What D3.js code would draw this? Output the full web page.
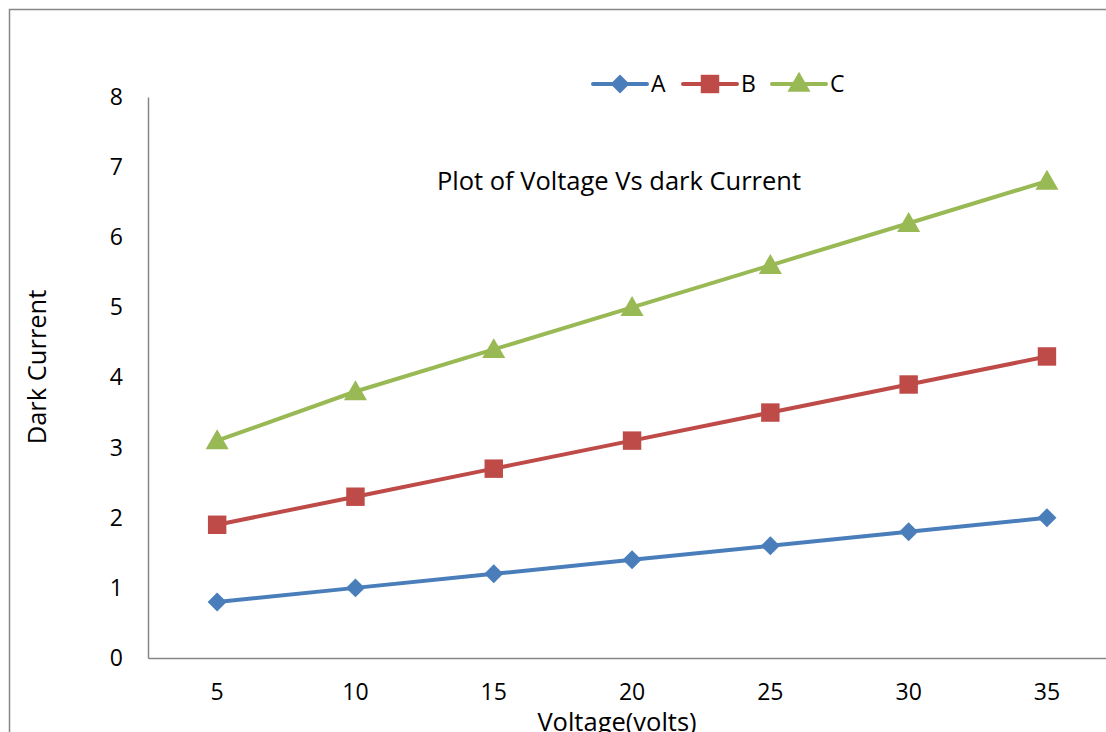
<!DOCTYPE html>
<html>
<head>
<meta charset="utf-8">
<script src="https://cdn.jsdelivr.net/npm/d3@7"></script>
<style>
  html, body { margin: 0; background: #fff; overflow: hidden; }
  #chart { width: 1106px; height: 732px; overflow: hidden; }
  svg { display: block; }
  text { font-family: "Open Sans", "Noto Sans", sans-serif; fill: #000; }
</style>
</head>
<body>
<div id="chart"></div>
<script>
// chart data
var voltages = [5, 10, 15, 20, 25, 30, 35];
var seriesA = [0.8, 1.0, 1.2, 1.4, 1.6, 1.8, 2.0];
var seriesB = [1.9, 2.3, 2.7, 3.1, 3.5, 3.9, 4.3];
var seriesC = [3.1, 3.8, 4.4, 5.0, 5.6, 6.2, 6.8];
var seriesNames = ["A", "B", "C"];
var yTicks = [0, 1, 2, 3, 4, 5, 6, 7, 8];

var W = 1106, H = 732;
var margin = { top: 97, left: 148, bottom: 74 };
var plotH = H - margin.top - margin.bottom;

// svg is a bit wider than the window, the chart runs off the right edge
var svg = d3.select("#chart").append("svg")
    .attr("width", W + 40)
    .attr("height", H + 40);

// outer chart border, only top and left are inside the picture
svg.append("path")
    .attr("d", "M9.5," + (H + 40) + "V9.5H" + (W + 40))
    .attr("fill", "none")
    .attr("stroke", "#878787")
    .attr("stroke-width", 1.5);

var g = svg.append("g")
    .attr("transform", "translate(" + margin.left + "," + margin.top + ")");

// scales
var x = d3.scaleBand()
    .domain(voltages)
    .range([0, 138.3 * voltages.length]);

var y = d3.scaleLinear()
    .domain([0, 8])
    .range([plotH, 0]);

var xAxis = d3.axisBottom(x).tickSize(0).tickPadding(26);
var yAxis = d3.axisLeft(y).tickValues(yTicks).tickSize(0).tickPadding(25);

g.append("g")
    .attr("class", "x-axis")
    .attr("transform", "translate(0," + plotH + ")")
    .call(xAxis);

g.append("g")
    .attr("class", "y-axis")
    .call(yAxis);

g.selectAll(".domain").attr("stroke", "#868686").attr("stroke-width", 1.5);
g.selectAll(".tick text")
    .style("font-size", "23px")
    .style("font-family", "'Open Sans', sans-serif");

// series
var colors = ["#4A7EBB", "#BE4B48", "#98B954"];
var symbols = [d3.symbolDiamond2, d3.symbolSquare, d3.symbolTriangle];
var symbolSizes = [230, 340, 230];
var allSeries = [seriesA, seriesB, seriesC];

var cx = function(i){ return x(voltages[i]) + x.bandwidth() / 2; };

var line = d3.line()
    .x(function(d, i){ return cx(i); })
    .y(function(d){ return y(d); });

allSeries.forEach(function(vals, s){
    g.append("path")
        .datum(vals)
        .attr("fill", "none")
        .attr("stroke", colors[s])
        .attr("stroke-width", 4)
        .attr("d", line);

    g.selectAll(".pt" + s)
        .data(vals)
        .enter().append("path")
        .attr("class", "pt" + s)
        .attr("fill", colors[s])
        .attr("d", d3.symbol().type(symbols[s]).size(symbolSizes[s]))
        .attr("transform", function(d, i){
            var dy = s == 2 ? 2 : 0;
            return "translate(" + cx(i) + "," + (y(d) + dy) + ")";
        });
});

// legend
var legendX = [593, 683, 772];
seriesNames.forEach(function(name, s){
    var lg = svg.append("g").attr("transform", "translate(" + legendX[s] + ",84)");
    lg.append("line")
        .attr("x1", 0).attr("x2", 54)
        .attr("stroke", colors[s]).attr("stroke-width", 4)
        .attr("stroke-linecap", "round");
    lg.append("path")
        .attr("fill", colors[s])
        .attr("d", d3.symbol().type(symbols[s]).size(symbolSizes[s]))
        .attr("transform", "translate(27," + (s == 2 ? 1 : 0) + ")");
    lg.append("text")
        .attr("x", 58).attr("y", 8)
        .style("font-size", "23px")
        .text(name);
});

// titles
svg.append("text")
    .attr("x", 619).attr("y", 190)
    .attr("text-anchor", "middle")
    .style("font-size", "25.5px")
    .text("Plot of Voltage Vs dark Current");

svg.append("text")
    .attr("transform", "translate(46,367) rotate(-90)")
    .attr("text-anchor", "middle")
    .style("font-size", "25.5px")
    .text("Dark Current");

svg.append("text")
    .attr("x", 617).attr("y", 731)
    .attr("text-anchor", "middle")
    .style("font-size", "25.5px")
    .text("Voltage(volts)");
</script>
</body>
</html>
